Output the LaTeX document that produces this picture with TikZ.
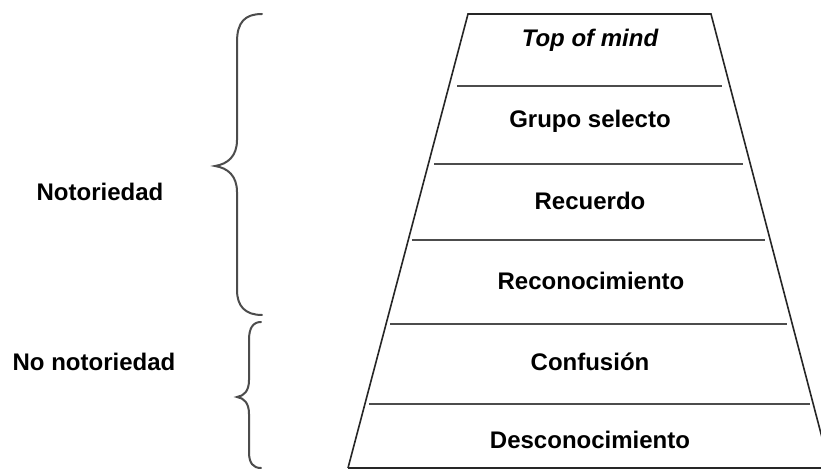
\documentclass[tikz,border=0pt]{standalone}
\usepackage{fontspec}
\setmainfont{Liberation Sans}
\begin{document}
\begin{tikzpicture}[x=0.5pt,y=-0.5pt,
  lbl/.style={font=\fontsize{12}{14}\selectfont\bfseries, text=black, inner sep=0pt},
  edge/.style={draw=black!85, line width=0.8pt},
  sep/.style={draw=black!70, line width=1.2pt},
  brace/.style={draw=black!70, line width=1pt, line cap=round}]
\useasboundingbox (0,0) rectangle (821,470);
\fill[white] (0,0) rectangle (821,470);
\begin{scope}
\clip (0,0) rectangle (821,470);
% trapezoid
\draw[edge] (348,468) -- (468,14) -- (711,14) -- (830,468);
\draw[edge] (348,468) -- (830,468);
\end{scope}
% separators
\draw[sep] (457,86) -- (722,86);
\draw[sep] (434,164) -- (743,164);
\draw[sep] (412,240) -- (765,240);
\draw[sep] (390,324) -- (787,324);
\draw[sep] (369,404) -- (810,404);
% labels
\node[lbl, font=\fontsize{12}{14}\selectfont\bfseries\itshape] (top) at (590,40) {Top of mind};
\node[lbl] (grupo) at (590,121) {Grupo selecto};
\node[lbl] (recuerdo) at (590,201) {Recuerdo};
\node[lbl] (recon) at (591,281) {Reconocimiento};
\node[lbl] (conf) at (590,362) {Confusión};
\node[lbl] (desc) at (590,440) {Desconocimiento};
\node[lbl] (noto) at (100,192) {Notoriedad};
\node[lbl] (nonoto) at (94,362) {No notoriedad};
% braces
\draw[brace] (262,14) .. controls (245,14) and (237,22) .. (237,42)
  -- (237,140) .. controls (237,156) and (228,164) .. (215,166)
  .. controls (228,168) and (237,176) .. (237,192)
  -- (237,290) .. controls (237,306) and (245,315) .. (262,315);
\draw[brace] (261,322) .. controls (253,322) and (249,328) .. (249,340)
  -- (249,380) .. controls (249,391) and (244,396) .. (237,397)
  .. controls (244,398) and (249,403) .. (249,414)
  -- (249,452) .. controls (249,463) and (253,468) .. (261,468);
\end{tikzpicture}
\end{document}
